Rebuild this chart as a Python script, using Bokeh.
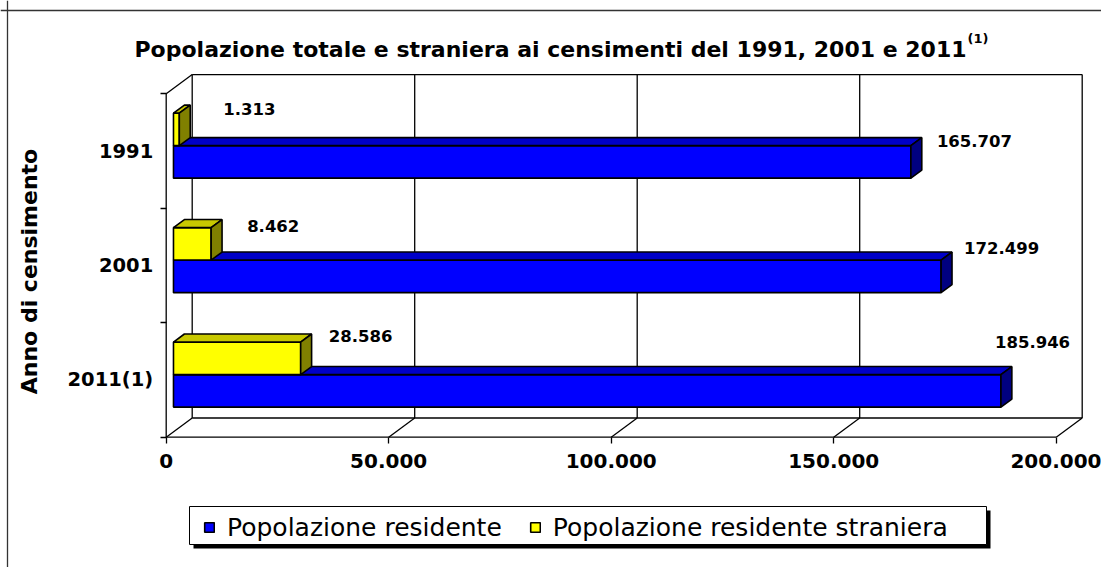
import math
from bokeh.plotting import figure
from bokeh.models import (Range1d, FixedTicker, Legend, LegendItem, Label, Span,
                          BoxAnnotation, ColumnDataSource)
from bokeh.embed import file_html
from bokeh.resources import INLINE
from bokeh.core.properties import value

# ---------------- data ----------------
categories = ["1991", "2001", "2011(1)"]
pop_residente = [165707, 172499, 185946]
pop_straniera = [1313, 8462, 28586]
x_ticks = [0, 50000, 100000, 150000, 200000]
x_tick_labels = ["0", "50.000", "100.000", "150.000", "200.000"]
series_names = ["Popolazione residente", "Popolazione residente straniera"]
chart_title = "Popolazione totale e straniera ai censimenti del 1991, 2001 e 2011"
title_note = "(1)"
y_title = "Anno di censimento"

# data-label nudges in screen pixels (style, per category)
nudge_x_res = [26, 23, -6]
nudge_y_res = [-4.3, -12, -33]
nudge_x_str = [44, 36, 28]
nudge_y_str = [-4.5, -2, -6.5]

# ---------------- layout ----------------
W, H, M = 1101, 567, 0
X0_PX, XMAX_PX = 165.7, 1055.7     # page px of 0 and of x max (front plane)
Y0_PX, YTOP_PX = 436.7, 93.3       # page px of floor front / top of left wall
XMAX = x_ticks[-1]
NCAT = len(categories)
xpp = XMAX / (XMAX_PX - X0_PX)
ypp = NCAT / (Y0_PX - YTOP_PX)


def DX(px):
    return (px - X0_PX) * xpp


def DY(py):
    return (Y0_PX - py) * ypp


DEPTH_X = 26 * xpp
DEPTH_Y = 19.2 * ypp
F0, FD = 0.28, 0.42          # bar front depth fraction, bar thickness fraction
GAP, BH = 0.216, 0.284       # gap below bars, bar height (category units)

FONT = "DejaVu Sans"

p = figure(width=W, height=H, x_range=Range1d(DX(M), DX(M + W)),
           y_range=Range1d(DY(M + H), DY(M)), toolbar_location=None,
           output_backend="svg", min_border=0)
p.outline_line_color = None
p.grid.visible = False
p.background_fill_color = "white"
p.border_fill_color = "white"

# ---------------- walls / floor ----------------
wx, wy = [], []
for t in x_ticks:
    wx.append([t + DEPTH_X, t + DEPTH_X]); wy.append([DEPTH_Y, NCAT + DEPTH_Y])
    wx.append([t, t + DEPTH_X]); wy.append([0, DEPTH_Y])
wx.append([DEPTH_X, XMAX + DEPTH_X]); wy.append([NCAT + DEPTH_Y, NCAT + DEPTH_Y])
wx.append([DEPTH_X, XMAX + DEPTH_X]); wy.append([DEPTH_Y, DEPTH_Y])
wx.append([0, XMAX]); wy.append([0, 0])
wx.append([0, 0]); wy.append([0, NCAT])
wx.append([0, DEPTH_X]); wy.append([NCAT, NCAT + DEPTH_Y])
p.multi_line(wx, wy, line_color="black", line_width=1.3)

# ---------------- 3D bars ----------------
front_colors = ["#0000FF", "#FFFF00"]
top_colors = ["#0000C8", "#C8C800"]
side_colors = ["#000080", "#808000"]
ox, oy = F0 * DEPTH_X, F0 * DEPTH_Y
ddx, ddy = FD * DEPTH_X, FD * DEPTH_Y
faces = dict(xs=[], ys=[], fill=[])
labels = dict(x=[], y=[], text=[], xo=[], yo=[])
legend_index = {}
series = [pop_residente, pop_straniera]
nudges = [(nudge_x_res, nudge_y_res), (nudge_x_str, nudge_y_str)]
for i, cat in enumerate(categories):
    base = NCAT - 1 - i
    for s, vals in enumerate(series):
        v = vals[i]
        yl = base + GAP + s * BH + oy
        yh = yl + BH
        x0, x1 = ox, ox + v
        faces["xs"].append([x0, x1, x1, x0]); faces["ys"].append([yl, yl, yh, yh])
        faces["fill"].append(front_colors[s])
        legend_index.setdefault(s, len(faces["xs"]) - 1)
        faces["xs"].append([x0, x1, x1 + ddx, x0 + ddx]); faces["ys"].append([yh, yh, yh + ddy, yh + ddy])
        faces["fill"].append(top_colors[s])
        faces["xs"].append([x1, x1 + ddx, x1 + ddx, x1]); faces["ys"].append([yl, yl + ddy, yh + ddy, yh])
        faces["fill"].append(side_colors[s])
        labels["x"].append(x1); labels["y"].append(yh)
        labels["text"].append(f"{v:,}".replace(",", "."))
        labels["xo"].append(nudges[s][0][i]); labels["yo"].append(nudges[s][1][i])

bars = p.patches(xs="xs", ys="ys", fill_color="fill", line_color="black", line_width=1.6,
                 source=ColumnDataSource(faces))
p.text(x="x", y="y", text="text", x_offset="xo", y_offset="yo", source=ColumnDataSource(labels),
       text_font=value(FONT), text_font_style="bold", text_font_size="16.5px",
       text_align="left", text_baseline="middle", text_color="black")

# ---------------- axes ----------------
xa = p.xaxis[0]
xa.fixed_location = 0
xa.ticker = FixedTicker(ticks=x_ticks)
xa.major_label_overrides = dict(zip(x_ticks, x_tick_labels))
xa.axis_line_color = None
xa.major_tick_out = 6
xa.major_tick_in = 0
xa.major_tick_line_width = 1.3
xa.minor_tick_line_color = None
xa.major_label_standoff = 11
xa.major_label_text_font = FONT
xa.major_label_text_font_style = "bold"
xa.major_label_text_font_size = "20px"
xa.major_label_text_color = "black"

ya = p.yaxis[0]
ya.fixed_location = 0
ya.ticker = FixedTicker(ticks=[NCAT - 1 - i + 0.5 for i in range(NCAT)],
                        minor_ticks=list(range(NCAT + 1)))
ya.major_label_overrides = {NCAT - 1 - i + 0.5: c for i, c in enumerate(categories)}
ya.axis_line_color = None
ya.major_tick_line_color = None
ya.major_tick_out = 6
ya.major_tick_in = 0
ya.minor_tick_out = 6
ya.minor_tick_in = 0
ya.minor_tick_line_color = "black"
ya.minor_tick_line_width = 1.3
ya.major_label_standoff = 7
ya.major_label_text_font = FONT
ya.major_label_text_font_style = "bold"
ya.major_label_text_font_size = "19.5px"
ya.major_label_text_color = "black"

# ---------------- titles ----------------
p.add_layout(Label(x=DX(134), y=DY(49), text=chart_title, text_font=FONT,
                   text_font_style="bold", text_font_size="22px",
                   text_baseline="alphabetic", text_align="left", text_color="black"))
p.add_layout(Label(x=DX(134 + 37.82 * 22 + 1), y=DY(38), text=title_note, text_font=FONT,
                   text_font_style="bold", text_font_size="13px",
                   text_baseline="alphabetic", text_align="left", text_color="black"))
p.add_layout(Label(x=DX(28.5), y=DY(271), text=y_title, angle=math.pi / 2, text_font=FONT,
                   text_font_style="bold", text_font_size="22px", text_align="center",
                   text_baseline="middle", text_color="black"))

# ---------------- chart border ----------------
p.add_layout(Span(location=DX(7), dimension="height", line_color="#333333", line_width=1.3))
p.add_layout(Span(location=DY(10), dimension="width", line_color="#333333", line_width=1.3))

# ---------------- legend ----------------
p.add_layout(BoxAnnotation(left=DX(193), right=DX(990), top=DY(510), bottom=DY(548),
                           fill_color="black", fill_alpha=1, line_color=None))
p.add_layout(BoxAnnotation(left=DX(189), right=DX(986), top=DY(506), bottom=DY(544),
                           fill_color="white", fill_alpha=1, line_color="black", line_width=1,
                           line_alpha=1))
legend = Legend(items=[LegendItem(label=series_names[s], renderers=[bars], index=legend_index[s])
                       for s in range(2)],
                orientation="horizontal", location=(203 - M, H - (527 - M) - 14.5),
                padding=0, margin=0, spacing=27, label_standoff=12,
                glyph_width=12, glyph_height=12, border_line_color=None,
                background_fill_alpha=0, label_text_font=FONT, label_text_font_size="25px",
                label_text_color="black")
p.add_layout(legend)

open("out.html", "w").write(file_html(p, INLINE))
